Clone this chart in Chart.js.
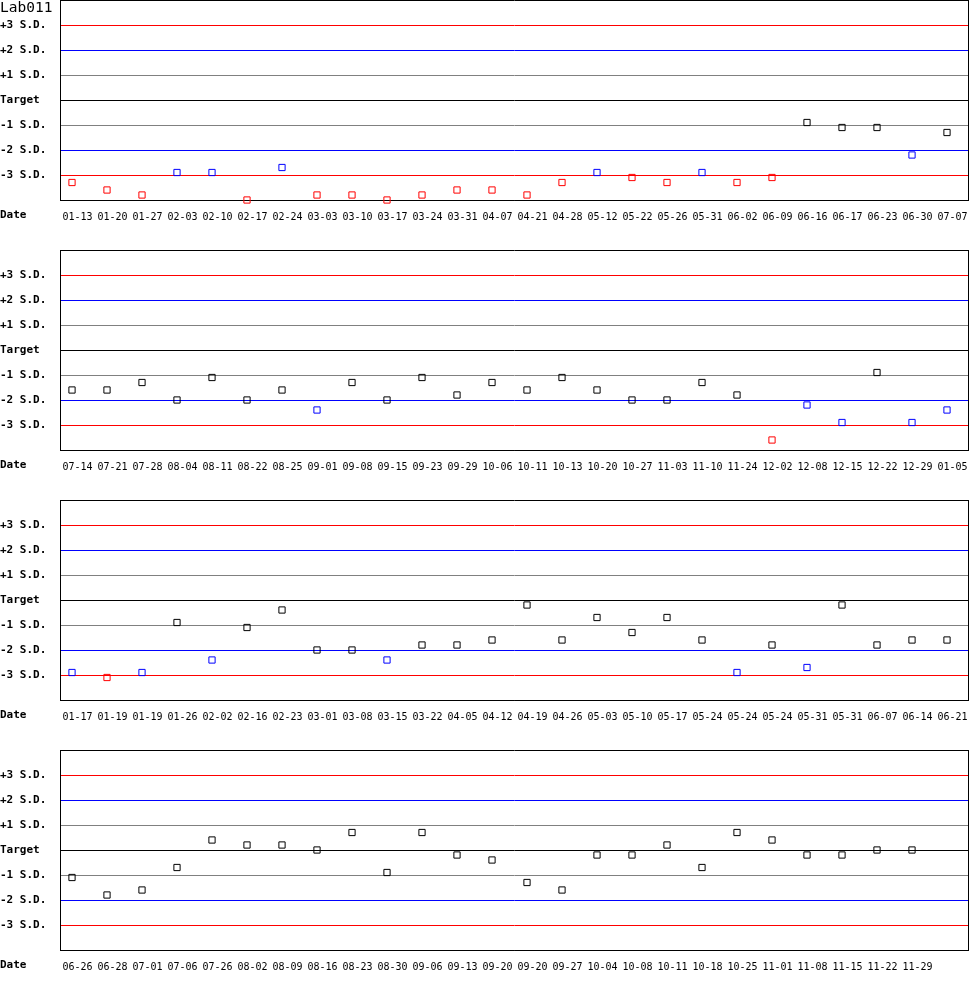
<!DOCTYPE html>
<html>
<head>
<meta charset="utf-8">
<script src="https://cdn.jsdelivr.net/npm/chart.js@4/dist/chart.umd.min.js"></script>
<style>
  body { margin: 0; background: #fff; }
  .panel { position: absolute; left: 0; width: 970px; height: 250px; }
</style>
</head>
<body>
<div class="panel" style="top:0px"><canvas id="c1" width="970" height="250"></canvas></div>
<div class="panel" style="top:250px"><canvas id="c2" width="970" height="250"></canvas></div>
<div class="panel" style="top:500px"><canvas id="c3" width="970" height="250"></canvas></div>
<div class="panel" style="top:750px"><canvas id="c4" width="970" height="250"></canvas></div>
<script>
// QC chart, values in S.D. units
const chartTitle = "Lab011";
const sdTicks = [3, 2, 1, 0, -1, -2, -3];
const sdTickLabels = ["+3 S.D.", "+2 S.D.", "+1 S.D.", "Target", "-1 S.D.", "-2 S.D.", "-3 S.D."];

const dates1 = ["01-13","01-20","01-27","02-03","02-10","02-17","02-24","03-03","03-10","03-17","03-24","03-31","04-07",
                "04-21","04-28","05-12","05-22","05-26","05-31","06-02","06-09","06-16","06-17","06-23","06-30","07-07"];
const values1 = [-3.3,-3.6,-3.8,-2.9,-2.9,-4.0,-2.7,-3.8,-3.8,-4.0,-3.8,-3.6,-3.6,
                 -3.8,-3.3,-2.9,-3.1,-3.3,-2.9,-3.3,-3.1,-0.9,-1.1,-1.1,-2.2,-1.3];

const dates2 = ["07-14","07-21","07-28","08-04","08-11","08-22","08-25","09-01","09-08","09-15","09-23","09-29","10-06",
                "10-11","10-13","10-20","10-27","11-03","11-10","11-24","12-02","12-08","12-15","12-22","12-29","01-05"];
const values2 = [-1.6,-1.6,-1.3,-2.0,-1.1,-2.0,-1.6,-2.4,-1.3,-2.0,-1.1,-1.8,-1.3,
                 -1.6,-1.1,-1.6,-2.0,-2.0,-1.3,-1.8,-3.6,-2.2,-2.9,-0.9,-2.9,-2.4];

const dates3 = ["01-17","01-19","01-19","01-26","02-02","02-16","02-23","03-01","03-08","03-15","03-22","04-05","04-12",
                "04-19","04-26","05-03","05-10","05-17","05-24","05-24","05-24","05-31","05-31","06-07","06-14","06-21"];
const values3 = [-2.9,-3.1,-2.9,-0.9,-2.4,-1.1,-0.4,-2.0,-2.0,-2.4,-1.8,-1.8,-1.6,
                 -0.2,-1.6,-0.7,-1.3,-0.7,-1.6,-2.9,-1.8,-2.7,-0.2,-1.8,-1.6,-1.6];

const dates4 = ["06-26","06-28","07-01","07-06","07-26","08-02","08-09","08-16","08-23","08-30","09-06","09-13","09-20",
                "09-20","09-27","10-04","10-08","10-11","10-18","10-25","11-01","11-08","11-15","11-22","11-29"];
const values4 = [-1.1,-1.8,-1.6,-0.7,0.4,0.2,0.2,0,0.7,-0.9,0.7,-0.2,-0.4,
                 -1.3,-1.6,-0.2,-0.2,0.2,-0.7,0.7,0.4,-0.2,-0.2,0,0];

const slotsPerRow = 26;
const monoFont = "'DejaVu Sans Mono', 'Liberation Mono', monospace";

function limitColor(v) {
    const a = Math.abs(v);
    if (a > 3) return "#ff0000";
    if (a > 2) return "#0000ff";
    return "#000000";
}

function lineColor(v) {
    const a = Math.abs(v);
    if (a === 3) return "#ff0000";
    if (a === 2) return "#0000ff";
    if (a === 1) return "#808080";
    return "#000000";
}

// no automatic label padding, the plot box is fixed
function noPad(s) {
    s.paddingLeft = 0;
    s.paddingRight = 0;
    s.paddingTop = 0;
    s.paddingBottom = 0;
}

const sideText = {
    id: "sideText",
    afterDraw(chart, args, opts) {
        const ctx = chart.ctx;
        ctx.save();
        ctx.fillStyle = "#000";
        ctx.textBaseline = "middle";
        ctx.textAlign = "left";
        if (opts.title) {
            ctx.font = "14.5px " + monoFont;
            ctx.fillText(opts.title, 0, 8);
        }
        ctx.font = "bold 11px " + monoFont;
        ctx.fillText("Date", 0, 215);
        ctx.restore();
    }
};

function makePanel(id, labels, values, title) {
    const idx = [];
    for (let i = 0; i < slotsPerRow; i++) idx.push(i);
    new Chart(document.getElementById(id), {
        type: "line",
        data: {
            datasets: [{
                data: values.map((v, i) => ({ x: i, y: v })),
                showLine: false,
                clip: false,
                pointStyle: "rect",
                pointRadius: 4.4,
                pointHoverRadius: 4.4,
                pointBorderWidth: 1,
                pointBackgroundColor: "rgba(255,255,255,0)",
                pointBorderColor: ctx => limitColor(ctx.raw.y)
            }]
        },
        options: {
            responsive: false,
            animation: false,
            devicePixelRatio: 1,
            layout: { padding: 0, autoPadding: false },
            plugins: {
                legend: { display: false },
                tooltip: { enabled: false },
                sideText: { title: title }
            },
            scales: {
                x: {
                    type: "linear",
                    min: -12 / 35,
                    max: -12 / 35 + 908 / 35,
                    afterBuildTicks: s => { s.ticks = idx.map(v => ({ value: v })); },
                    grid: { display: false, drawTicks: false },
                    border: { display: true, color: "#000" },
                    ticks: {
                        autoSkip: false,
                        maxRotation: 0,
                        padding: 11,
                        labelOffset: 5.5,
                        color: "#000",
                        font: { family: monoFont, size: 10 },
                        callback: v => labels[v] || ""
                    },
                    afterFit: s => { s.height = 50; noPad(s); }
                },
                y: {
                    min: -4,
                    max: 4,
                    afterBuildTicks: s => {
                        s.ticks = [4].concat(sdTicks, [-4]).map(v => ({ value: v }));
                    },
                    grid: {
                        drawTicks: false,
                        lineWidth: 1,
                        color: ctx => lineColor(ctx.tick.value)
                    },
                    border: { display: true, color: "#000" },
                    ticks: {
                        crossAlign: "far",
                        padding: 0,
                        color: "#000",
                        font: { family: monoFont, size: 11, weight: "bold" },
                        callback: v => {
                            const i = sdTicks.indexOf(v);
                            return i >= 0 ? sdTickLabels[i] : "";
                        }
                    },
                    afterFit: s => { s.width = 60; noPad(s); }
                },
                yRight: {
                    position: "right",
                    min: -4,
                    max: 4,
                    grid: { display: false },
                    border: { display: true, color: "#000" },
                    ticks: { display: false },
                    afterFit: s => { s.width = 2; noPad(s); }
                }
            }
        },
        plugins: [sideText]
    });
}

makePanel("c1", dates1, values1, chartTitle);
makePanel("c2", dates2, values2, null);
makePanel("c3", dates3, values3, null);
makePanel("c4", dates4, values4, null);
</script>
</body>
</html>
